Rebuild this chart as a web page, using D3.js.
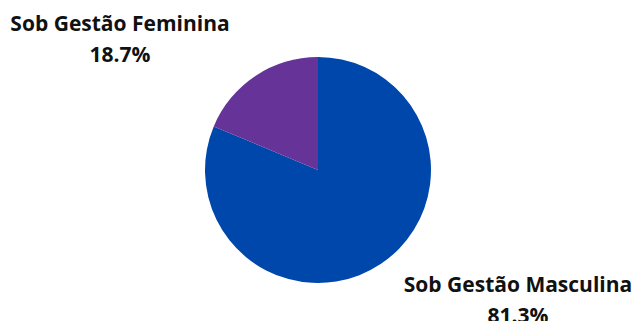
<!DOCTYPE html>
<html><head><meta charset="utf-8">
<script src="https://cdn.jsdelivr.net/npm/d3@7"></script>
<style>html,body{margin:0;padding:0;background:#fff;overflow:hidden}</style>
</head><body>
<svg id="c" width="635" height="321"></svg>
<script>
const categories = ["Sob Gestão Masculina", "Sob Gestão Feminina"];
const values = [81.3, 18.7];
const labels = ["81.3%", "18.7%"];
const colors = ["#0047AB", "#663399"];

const svg = d3.select("#c");
const cx = 318, cy = 170, r = 113;
const pie = d3.pie().sort(null).value(d => d)(values);
const arc = d3.arc().innerRadius(0).outerRadius(r);
const g = svg.append("g").attr("transform", `translate(${cx},${cy})`);
g.selectAll("path").data(pie).enter().append("path")
  .attr("d", arc).attr("fill", (d, i) => colors[i]);

const labelPos = [[518, 292], [120, 31]];
categories.forEach((c, i) => {
  const t = svg.append("text")
    .attr("x", labelPos[i][0]).attr("y", labelPos[i][1])
    .attr("text-anchor", "middle")
    .attr("font-family", "'Open Sans'")
    .attr("font-weight", "bold")
    .attr("font-size", 21)
    .attr("fill", "#111");
  t.append("tspan").attr("x", labelPos[i][0]).text(c);
  t.append("tspan").attr("x", labelPos[i][0]).attr("dy", 31).text(labels[i]);
});
</script>
</body></html>
